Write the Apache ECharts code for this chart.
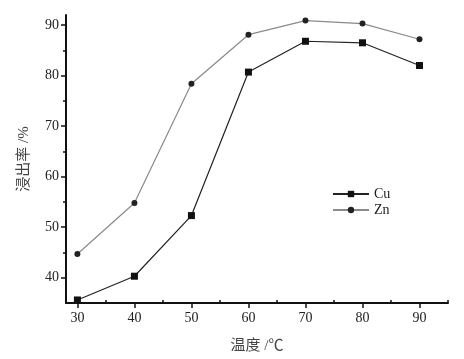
<!DOCTYPE html>
<html>
<head>
<meta charset="utf-8">
<script src="https://cdn.jsdelivr.net/npm/echarts@6/dist/echarts.min.js"></script>
<style>
  html, body { margin: 0; padding: 0; background: #fff; }
  #chart { width: 464px; height: 359px; }
</style>
</head>
<body>
<div id="chart"></div>
<script>
// 温度 (℃)
var temps = [30, 40, 50, 60, 70, 80, 90];
// 浸出率 (%)
var cuData = [35.6, 40.3, 52.3, 80.7, 86.8, 86.5, 82.0];
var znData = [44.7, 54.8, 78.4, 88.1, 90.9, 90.3, 87.2];
var xMajor = [30, 40, 50, 60, 70, 80, 90];
var xMinor = [35, 45, 55, 65, 75, 85, 95];
var yMajor = [40, 50, 60, 70, 80, 90];
var yMinor = [45, 55, 65, 75, 85];

var serif = 'Liberation Serif, "Noto Sans CJK SC", serif';

function pairs(vals) {
  return temps.map(function (t, i) { return [t, vals[i]]; });
}

var chart = echarts.init(document.getElementById('chart'));
var option = {
  backgroundColor: '#fff',
  animation: false,
  textStyle: { fontFamily: serif },
  grid: { left: 66, right: 16, top: 15, bottom: 56, containLabel: false },
  legend: {
    orient: 'vertical',
    left: 332,
    top: 187,
    itemWidth: 36,
    itemHeight: 8,
    itemGap: 2,
    padding: 0,
    textStyle: { fontFamily: serif, fontSize: 14, color: '#222', padding: [0, 0, 0, 0] },
    data: ['Cu', 'Zn']
  },
  xAxis: [
    {
      type: 'value', min: 28, max: 95,
      name: '温度 /℃', nameLocation: 'middle', nameGap: 36,
      nameTextStyle: { fontFamily: serif, fontSize: 15, color: '#444' },
      axisLine: { lineStyle: { color: '#111', width: 2 } },
      axisTick: { customValues: xMajor, length: 5, lineStyle: { color: '#111', width: 1.5 } },
      axisLabel: { customValues: xMajor, fontSize: 14, color: '#222', margin: 8 },
      splitLine: { show: false }
    },
    {
      type: 'value', min: 28, max: 95, position: 'bottom',
      axisLine: { show: false },
      axisTick: { customValues: xMinor, inside: true, length: 3, lineStyle: { color: '#111', width: 1.5 } },
      axisLabel: { show: false },
      splitLine: { show: false }
    }
  ],
  yAxis: [
    {
      type: 'value', min: 35, max: 92,
      name: '浸出率 /%', nameLocation: 'middle', nameGap: 34, nameRotate: 90,
      nameTextStyle: { fontFamily: serif, fontSize: 15, color: '#444' },
      axisLine: { lineStyle: { color: '#111', width: 2 } },
      axisTick: { customValues: yMajor, length: 5, lineStyle: { color: '#111', width: 1.5 } },
      axisLabel: { customValues: yMajor, fontSize: 14, color: '#222', margin: 7 },
      splitLine: { show: false }
    },
    {
      type: 'value', min: 35, max: 92, position: 'left',
      axisLine: { show: false },
      axisTick: { customValues: yMinor, length: 3, lineStyle: { color: '#111', width: 1.5 } },
      axisLabel: { show: false },
      splitLine: { show: false }
    }
  ],
  series: [
    {
      name: 'Cu', type: 'line', data: pairs(cuData),
      symbol: 'rect', symbolSize: 7,
      itemStyle: { color: '#111' },
      lineStyle: { color: '#222', width: 1.2 }
    },
    {
      name: 'Zn', type: 'line', data: pairs(znData),
      symbol: 'circle', symbolSize: 6,
      itemStyle: { color: '#222' },
      lineStyle: { color: '#8a8a8a', width: 1.2 }
    }
  ]
};
chart.setOption(option);
</script>
</body>
</html>
